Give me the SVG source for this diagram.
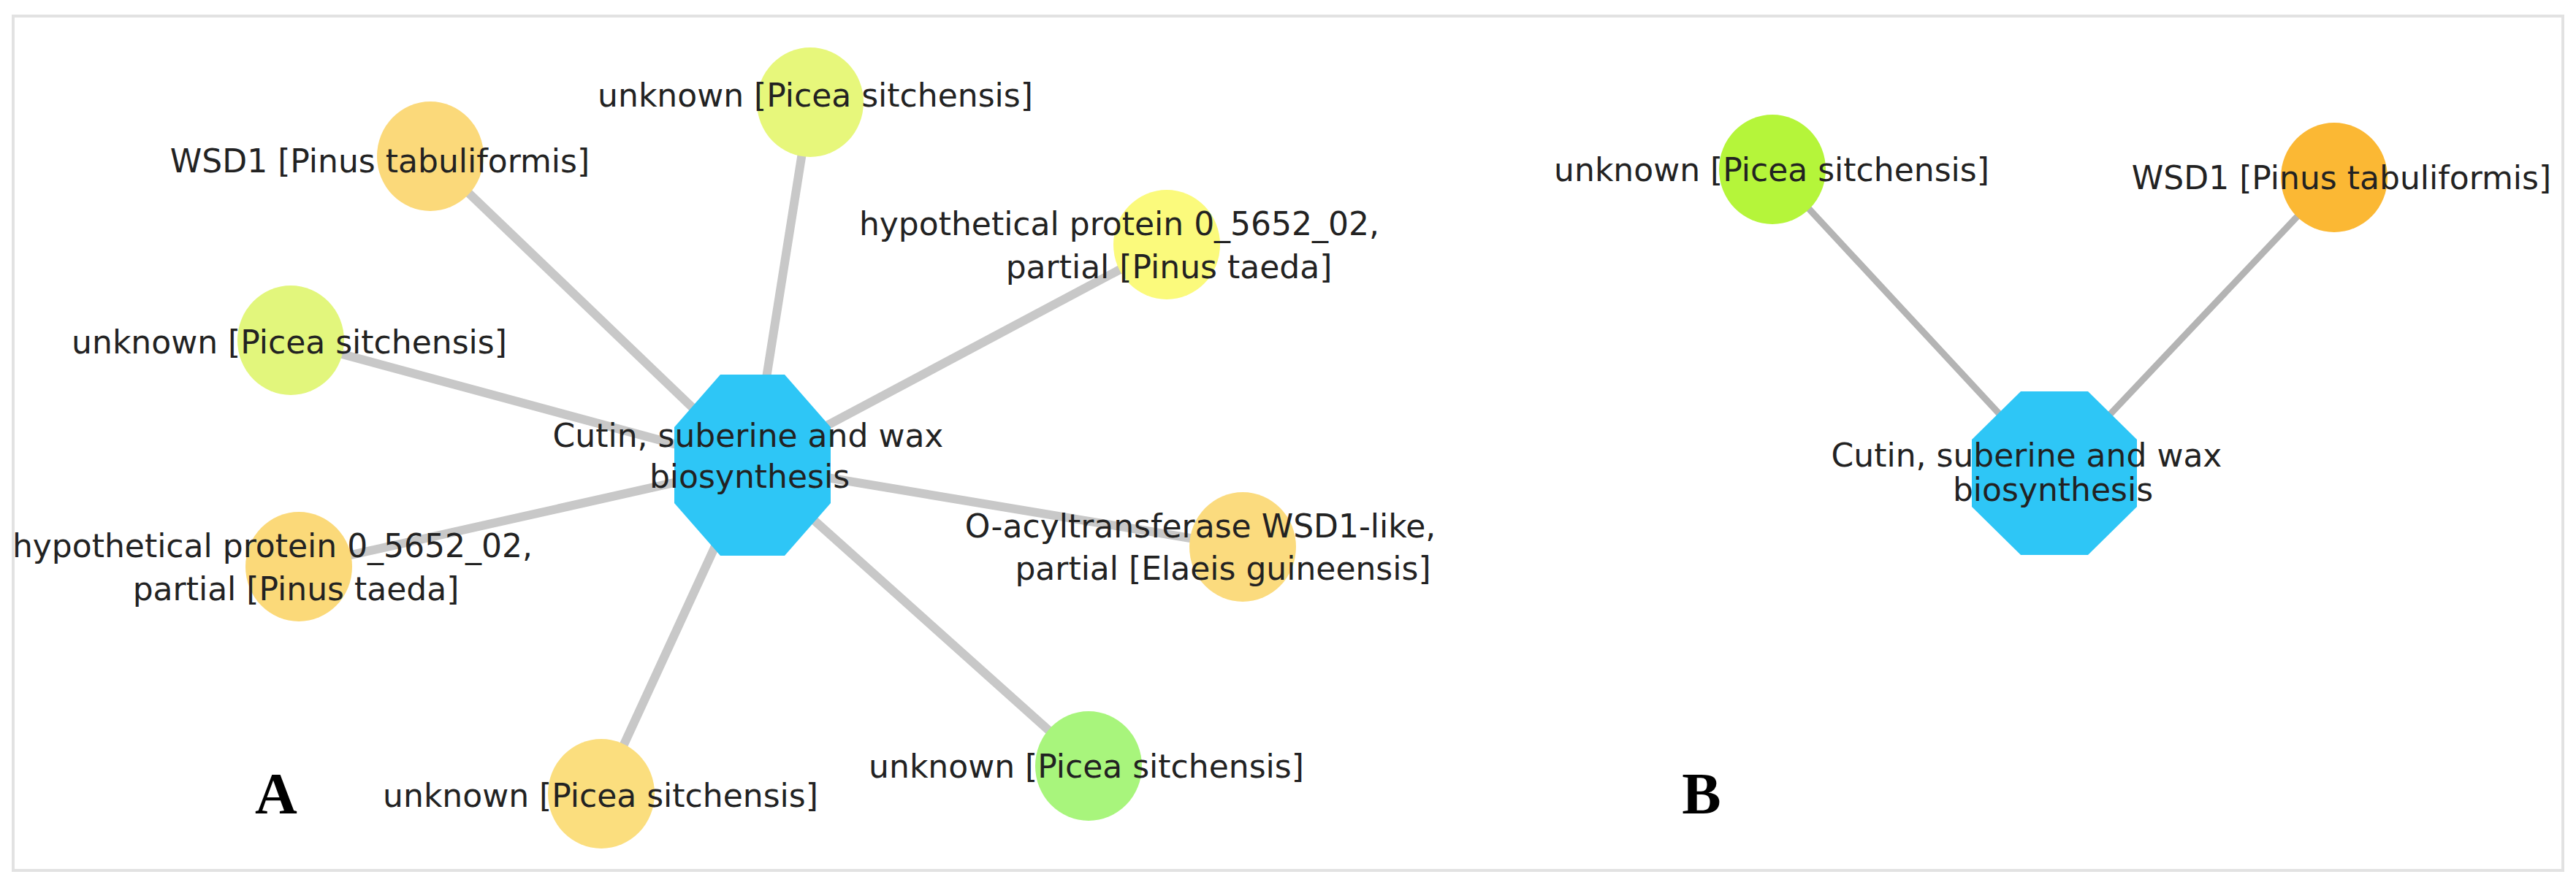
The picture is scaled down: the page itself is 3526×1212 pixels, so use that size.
<svg xmlns="http://www.w3.org/2000/svg" width="3526" height="1212" viewBox="0 0 3526 1212">
<style>
.e{stroke:#c8c8c8;stroke-width:12;fill:none}
.t{font-family:"DejaVu Sans",sans-serif;font-size:44px;fill:#222;text-anchor:middle}
.hub{fill:#2ec6f6}
.L{font-family:"Liberation Serif",serif;font-weight:bold;font-size:80px;fill:#000;text-anchor:middle}
</style>
<rect x="0" y="0" width="3526" height="1212" fill="#fff"/>
<rect x="18" y="22" width="3490" height="1170" fill="none" stroke="#e2e2e2" stroke-width="4"/>
<g id="connectors">
<line class="e" x1="1030" y1="637" x2="1109" y2="140"/>
<line class="e" x1="1030" y1="637" x2="589" y2="214"/>
<line class="e" x1="1030" y1="637" x2="1597" y2="335"/>
<line class="e" x1="1030" y1="637" x2="398" y2="466"/>
<line class="e" x1="1030" y1="637" x2="1701" y2="749"/>
<line class="e" x1="1030" y1="637" x2="409" y2="776"/>
<line class="e" x1="1030" y1="637" x2="823" y2="1087"/>
<line class="e" x1="1030" y1="637" x2="1490" y2="1049"/>
<line class="e" x1="2812" y1="648" x2="2426" y2="232" style="stroke:#b4b4b4;stroke-width:9"/>
<line class="e" x1="2812" y1="648" x2="3195" y2="243" style="stroke:#b4b4b4;stroke-width:9"/>
</g>
<g id="a1"><ellipse cx="1109" cy="140" rx="73" ry="75" fill="#e7f77b"/><text class="t" x="1116" y="146">unknown [Picea sitchensis]</text></g>
<g id="a2"><ellipse cx="589" cy="214" rx="73" ry="75" fill="#fbd97a"/><text class="t" x="520" y="236">WSD1 [Pinus tabuliformis]</text></g>
<g id="a3"><ellipse cx="1597" cy="335" rx="73" ry="75" fill="#fbfa7c"/><text class="t" x="1532" y="322">hypothetical protein 0_5652_02,</text><text class="t" x="1600" y="381">partial [Pinus taeda]</text></g>
<g id="a4"><ellipse cx="398" cy="466" rx="73" ry="75" fill="#e2f67c"/><text class="t" x="396" y="484">unknown [Picea sitchensis]</text></g>
<g id="a5"><ellipse cx="1701" cy="749" rx="73" ry="75" fill="#fbdb7e"/><text class="t" x="1643" y="736">O-acyltransferase WSD1-like,</text><text class="t" x="1674" y="794">partial [Elaeis guineensis]</text></g>
<g id="a6"><ellipse cx="409" cy="776" rx="73" ry="75" fill="#fbd979"/><text class="t" x="373" y="763">hypothetical protein 0_5652_02,</text><text class="t" x="405" y="822">partial [Pinus taeda]</text></g>
<g id="a7"><ellipse cx="823" cy="1087" rx="73" ry="75" fill="#fbde7e"/><text class="t" x="822" y="1105">unknown [Picea sitchensis]</text></g>
<g id="a8"><ellipse cx="1490" cy="1049" rx="73" ry="75" fill="#a8f57c"/><text class="t" x="1487" y="1065">unknown [Picea sitchensis]</text></g>
<g id="hubA"><polygon class="hub" points="986,513 1074,513 1137,585 1137,689 1074,761 986,761 923,689 923,585"/><text class="t" x="1024" y="612">Cutin, suberine and wax</text><text class="t" x="1026" y="668">biosynthesis</text></g>
<g id="b1"><ellipse cx="2426" cy="232" rx="73" ry="75" fill="#b5f53a"/><text class="t" x="2425" y="248">unknown [Picea sitchensis]</text></g>
<g id="b2"><ellipse cx="3195" cy="243" rx="73" ry="75" fill="#fbb834"/><text class="t" x="3205" y="259">WSD1 [Pinus tabuliformis]</text></g>
<g id="hubB"><polygon class="hub" points="2766,536 2858,536 2925,602 2925,694 2858,760 2766,760 2699,694 2699,602"/><text class="t" x="2774" y="639">Cutin, suberine and wax</text><text class="t" x="2810" y="686">biosynthesis</text></g>
<text class="L" x="378" y="1114">A</text>
<text class="L" x="2329" y="1114">B</text>
</svg>
